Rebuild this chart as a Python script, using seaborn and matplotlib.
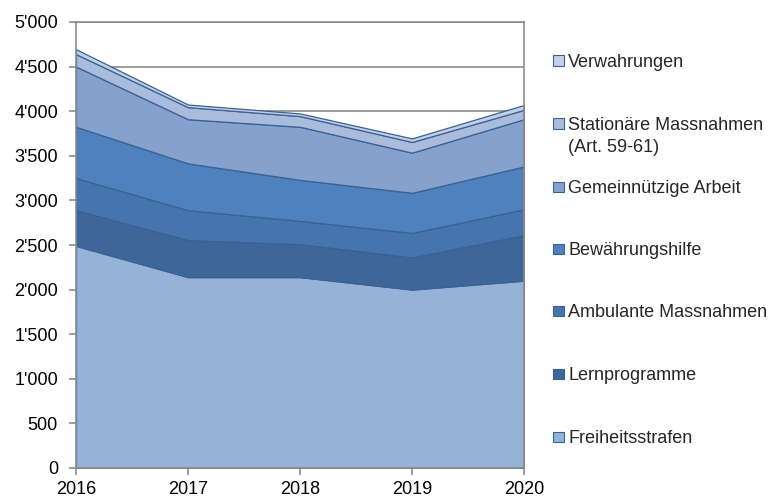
"""Stacked area chart: Vollzugsformen 2016-2020."""

import matplotlib.pyplot as plt
import matplotlib.ticker as mticker
from matplotlib.patches import Rectangle
import seaborn as sns

years = [2016, 2017, 2018, 2019, 2020]

freiheitsstrafen = [2490, 2140, 2140, 2000, 2100]
lernprogramme = [400, 415, 370, 360, 510]
ambulante = [360, 335, 260, 275, 290]
bewaehrungshilfe = [575, 525, 460, 450, 480]
gemeinnuetzige = [675, 495, 595, 450, 530]
stationaere = [140, 135, 120, 120, 105]
verwahrungen = [55, 30, 30, 40, 55]

labels = [
    "Freiheitsstrafen",
    "Lernprogramme",
    "Ambulante Massnahmen",
    "Bewährungshilfe",
    "Gemeinnützige Arbeit",
    "Stationäre Massnahmen\n(Art. 59-61)",
    "Verwahrungen",
]
colors = ["#95b3d7", "#3e6799", "#4675ad", "#4f81bd", "#84a2cd", "#a9bcdc", "#c3d0e8"]

sns.set_theme(style="white")
plt.rcParams["font.family"] = ["Liberation Sans", "DejaVu Sans"]

W, H = 769, 500
fig = plt.figure(figsize=(W / 100, H / 100), dpi=100)
ax = fig.add_axes([76 / W, 32 / H, 448 / W, 446 / H])

series = [freiheitsstrafen, lernprogramme, ambulante, bewaehrungshilfe,
          gemeinnuetzige, stationaere, verwahrungen]
ax.stackplot(years, *series, colors=colors, edgecolor="#3b6193",
             linewidth=0.9, zorder=2)

ax.set_xlim(2016, 2020)
ax.set_ylim(0, 5000)
ax.set_xticks(years)
ax.yaxis.set_major_locator(mticker.MultipleLocator(500))
ax.yaxis.set_major_formatter(
    mticker.FuncFormatter(lambda v, _: f"{int(v):,}".replace(",", "'")))
ax.grid(axis="y", color="#8c8c8c", linewidth=1.2, zorder=0)
ax.set_axisbelow(True)
for s in ax.spines.values():
    s.set_color("#8c8c8c")
    s.set_linewidth(1.2)
ax.tick_params(axis="both", labelsize=13, colors="black", length=5,
               width=1.2, direction="out", color="#8c8c8c",
               left=True, bottom=True)
ax.tick_params(axis="y", pad=8)
ax.tick_params(axis="x", pad=4)

# legend, top series first, one slot per entry
slot_y = [61, 124, 187, 249, 311, 374, 437]
for y, lab, col in zip(slot_y, labels[::-1], colors[::-1]):
    fig.add_artist(Rectangle((553 / W, 1 - (y + 5) / H), 10.5 / W, 10.5 / H,
                             facecolor=col, edgecolor="#3b6193", linewidth=0.8,
                             transform=fig.transFigure))
    fig.text(568 / W, 1 - (y - 7) / H, lab, fontsize=13, va="top",
             ha="left", linespacing=1.35)

fig.savefig("out.png", dpi=100)
